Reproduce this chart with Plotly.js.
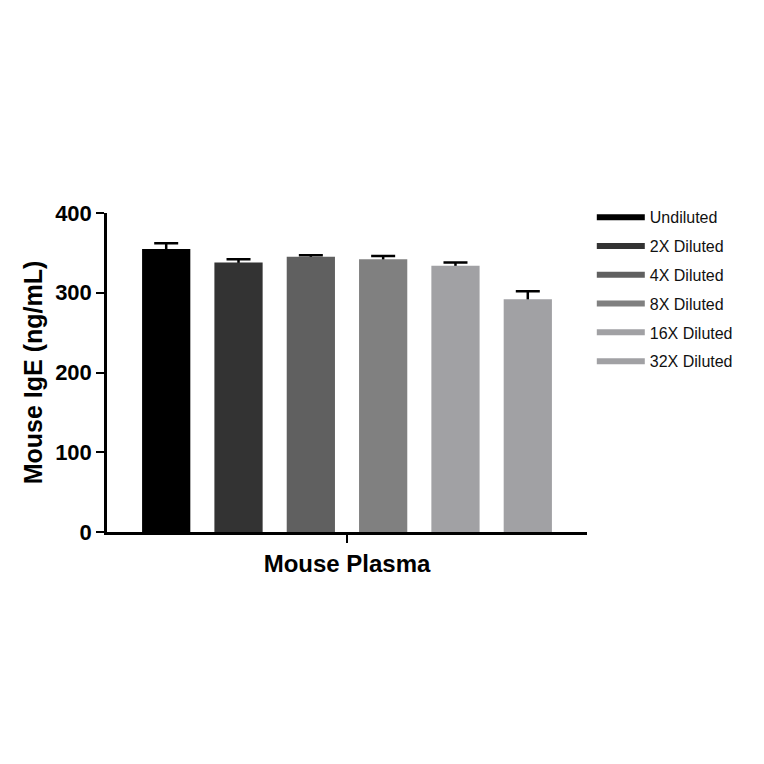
<!DOCTYPE html>
<html>
<head>
<meta charset="utf-8">
<script src="https://cdn.plot.ly/plotly-3.0.1.min.js"></script>
<style>
  html, body { margin: 0; padding: 0; background: #fff; }
  #plot-container { width: 764px; height: 764px; }
</style>
</head>
<body>
<div id="plot-container"></div>
<script>
// sample groups (legend order)
const dilutions = ['Undiluted', '2X Diluted', '4X Diluted', '8X Diluted', '16X Diluted', '32X Diluted'];
const category = ['Mouse Plasma'];
const igeMeans = [355, 338, 345, 342, 334, 292];
const igeErrors = [7, 4, 2, 4, 4, 10];
const barColors = ['#000000', '#333333', '#606060', '#808080', '#a1a1a4', '#a1a1a4'];

document.addEventListener("DOMContentLoaded", function() {
    let traces = [];

    dilutions.forEach((name, i) => {
        // error bar only (transparent bar), the real bar is drawn over it so only the upper whisker shows
        traces.push({
            type: 'bar',
            name: name,
            x: category,
            y: [igeMeans[i]],
            offsetgroup: 'g' + i,
            marker: { color: 'rgba(0,0,0,0)', line: { width: 0 } },
            error_y: { type: 'data', array: [igeErrors[i]], symmetric: false, arrayminus: [igeMeans[i]],
                       color: '#000', thickness: 2.5, width: 12 },
            showlegend: false,
            hoverinfo: 'skip'
        });
        traces.push({
            type: 'bar',
            name: name,
            x: category,
            y: [igeMeans[i]],
            offsetgroup: 'g' + i,
            marker: { color: barColors[i], line: { width: 0 } },
            showlegend: false,
            legendgroup: name
        });
    });

    // legend swatches drawn as thick lines, like the original
    dilutions.forEach((name, i) => {
        traces.push({
            type: 'scatter',
            mode: 'lines',
            name: name,
            x: [null],
            y: [null],
            line: { color: barColors[i], width: 6 },
            legendgroup: name,
            showlegend: true
        });
    });

    const layout = {
        autosize: false,
        width: 764,
        height: 764,
        margin: { l: 107, r: 177, t: 213, b: 232 },
        paper_bgcolor: '#fff',
        plot_bgcolor: '#fff',
        barmode: 'group',
        bargap: 0.096,
        bargroupgap: 0.333,
        font: { family: 'Liberation Sans, Arial, sans-serif', color: '#000' },
        xaxis: {
            type: 'category',
            showline: true, linecolor: '#000', linewidth: 2.5,
            ticks: 'outside', ticklen: 8, tickwidth: 2, tickcolor: '#000',
            tickfont: { family: 'Liberation Sans, Arial, sans-serif', size: 24, weight: 'bold' },
            showgrid: false, zeroline: false
        },
        yaxis: {
            range: [0, 400],
            tickvals: [0, 100, 200, 300, 400],
            showline: true, linecolor: '#000', linewidth: 2.5,
            ticks: 'outside', ticklen: 8, tickwidth: 2, tickcolor: '#000',
            tickfont: { family: 'Liberation Sans, Arial, sans-serif', size: 22, weight: 'bold' },
            showgrid: false, zeroline: false,
            title: { text: 'Mouse IgE (ng/mL)', standoff: 6,
                     font: { family: 'Liberation Sans, Arial, sans-serif', size: 25, weight: 'bold' } }
        },
        showlegend: true,
        legend: {
            x: 1.01, y: 1.04, xanchor: 'left', yanchor: 'top',
            font: { family: 'Liberation Sans, Arial, sans-serif', size: 16, color: '#111' },
            itemwidth: 48,
            tracegroupgap: 5,
            bgcolor: 'rgba(0,0,0,0)'
        }
    };

    Plotly.newPlot('plot-container', traces, layout, { displayModeBar: false });
});
</script>
</body>
</html>
